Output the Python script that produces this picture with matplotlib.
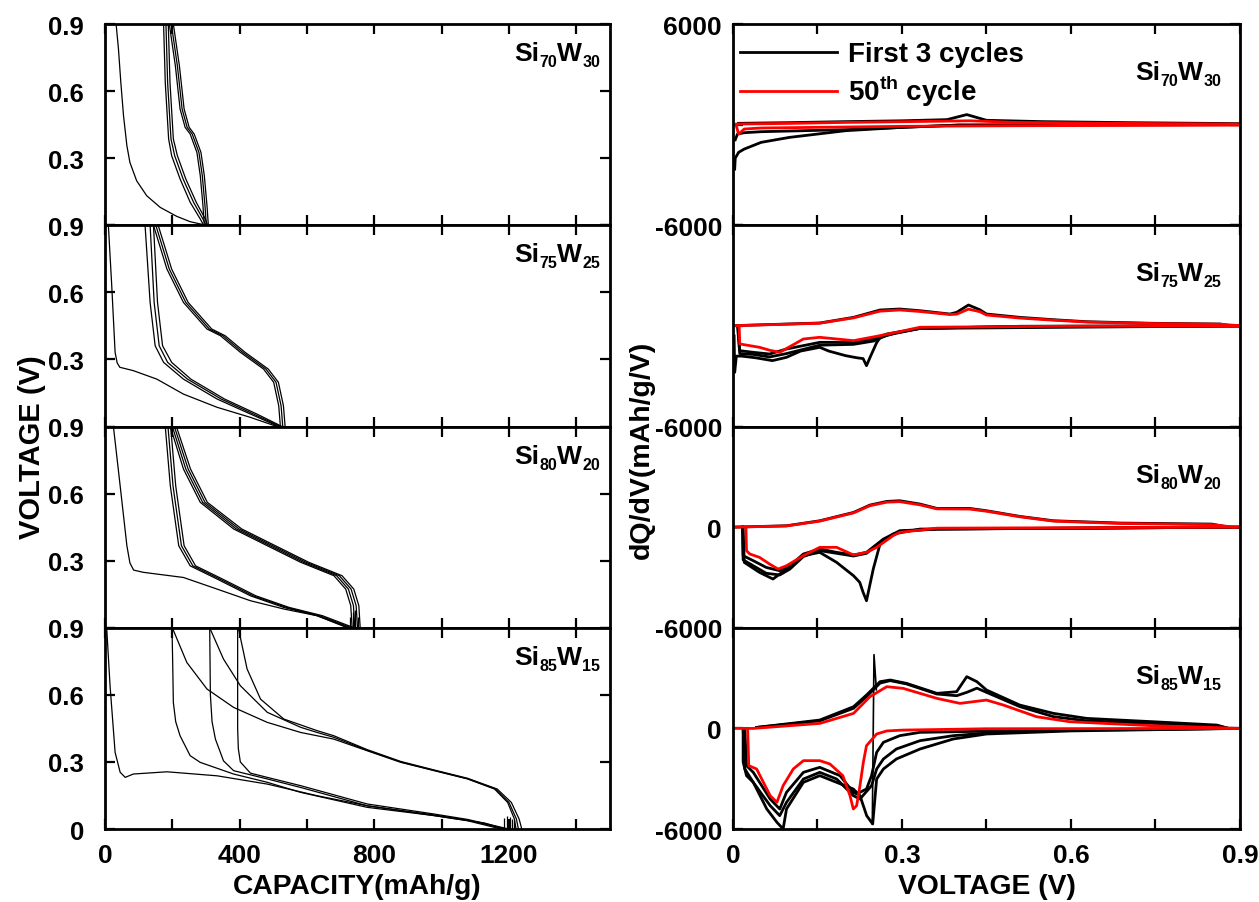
import numpy as np
import matplotlib
matplotlib.use('Agg')
import matplotlib.pyplot as plt
from matplotlib.lines import Line2D
from matplotlib.transforms import IdentityTransform

plt.rcParams['font.family'] = ['Liberation Sans', 'DejaVu Sans']
plt.rcParams['font.weight'] = 'bold'
plt.rcParams['mathtext.fontset'] = 'custom'
plt.rcParams['mathtext.rm'] = 'Liberation Sans'
plt.rcParams['mathtext.bf'] = 'Liberation Sans:bold'

# panel names: (element, subscript) pairs
samples = [[('Si', '70'), ('W', '30')], [('Si', '75'), ('W', '25')],
           [('Si', '80'), ('W', '20')], [('Si', '85'), ('W', '15')]]

# ---------------- voltage profiles (capacity mAh/g, voltage V) ----------------
# Si70W30
l1_first_cap = [33, 40, 47, 55, 65, 74, 94, 124, 164, 213, 253, 283, 303]
l1_first_v = [0.9, 0.788, 0.639, 0.49, 0.356, 0.281, 0.199, 0.132, 0.08, 0.04, 0.016, 0.006, 0.0]
l1_dis_v = [0.9, 0.639, 0.386, 0.311, 0.207, 0.103, 0.028, 0.0]
l1_dis_caps = [[174, 179, 189, 198, 223, 253, 283, 293],
               [181, 186, 196, 207, 232, 263, 291, 300],
               [188, 193, 203, 215, 240, 271, 298, 305]]
l1_chg_v = [0.9, 0.713, 0.52, 0.438, 0.408, 0.326, 0.222, 0.087, 0.0]
l1_chg_caps = [[191, 209, 223, 238, 253, 273, 283, 291, 295],
               [197, 215, 229, 244, 259, 279, 289, 297, 301],
               [203, 221, 235, 250, 265, 285, 295, 303, 307]]

# Si75W25
l2_first_cap = [10, 20, 30, 36, 44, 84, 154, 233, 333, 432, 511]
l2_first_v = [0.9, 0.63, 0.332, 0.285, 0.265, 0.25, 0.212, 0.145, 0.086, 0.041, 0.0]
l2_dis_v = [0.9, 0.555, 0.361, 0.287, 0.212, 0.123, 0.056, 0.0]
l2_dis_caps = [[119, 134, 149, 174, 233, 333, 432, 516],
               [134, 146, 161, 186, 245, 345, 441, 521],
               [144, 156, 171, 198, 255, 355, 451, 526]]
l2_chg_v = [0.9, 0.704, 0.555, 0.436, 0.406, 0.332, 0.257, 0.198, 0.093, 0.0]
l2_chg_caps = [[144, 184, 233, 303, 343, 402, 471, 501, 516, 521],
               [151, 191, 240, 310, 350, 409, 478, 508, 523, 528],
               [158, 198, 247, 317, 357, 416, 485, 515, 530, 535]]

# Si80W20
l3_first_cap = [25, 45, 65, 74, 85, 114, 233, 333, 432, 531, 630, 720]
l3_first_v = [0.9, 0.635, 0.367, 0.29, 0.258, 0.248, 0.225, 0.173, 0.121, 0.084, 0.054, 0.0]
l3_dis_v = [0.9, 0.635, 0.367, 0.277, 0.218, 0.143, 0.091, 0.054, 0.0]
l3_dis_caps = [[179, 194, 219, 253, 333, 432, 531, 630, 725],
               [187, 202, 227, 261, 341, 440, 539, 638, 732],
               [195, 210, 235, 269, 349, 448, 547, 646, 740]]
l3_chg_v = [0.9, 0.71, 0.561, 0.442, 0.367, 0.293, 0.233, 0.173, 0.099, 0.0]
l3_chg_caps = [[194, 233, 283, 382, 482, 581, 680, 715, 730, 734],
               [200, 240, 290, 390, 490, 589, 688, 723, 738, 742],
               [206, 247, 297, 398, 498, 597, 696, 731, 746, 750],
               [212, 254, 304, 406, 506, 605, 704, 739, 754, 758]]
l3_spike_cap = [728, 737, 744, 752]
l3_spike_v = [0.05, 0.07, 0.08, 0.05]

# Si85W15
l4_first_cap = [5, 15, 30, 45, 60, 84, 184, 333, 482, 630, 779, 978, 1127, 1187]
l4_first_v = [0.9, 0.641, 0.343, 0.254, 0.231, 0.246, 0.256, 0.238, 0.201, 0.149, 0.104, 0.06, 0.027, 0.0]
l4_dis_caps = [[199, 201, 203, 210, 223, 253, 283, 382, 482, 581, 779, 978, 1077, 1177],
               [311, 313, 318, 328, 352, 382, 482, 581, 779, 978, 1077, 1190],
               [394, 394, 396, 402, 432, 482, 581, 779, 978, 1077, 1200]]
l4_dis_vs = [[0.9, 0.75, 0.566, 0.48, 0.417, 0.328, 0.298, 0.246, 0.209, 0.164, 0.097, 0.06, 0.037, 0.0],
             [0.9, 0.6, 0.48, 0.402, 0.305, 0.261, 0.224, 0.186, 0.104, 0.063, 0.04, 0.0],
             [0.9, 0.45, 0.36, 0.3, 0.25, 0.231, 0.194, 0.112, 0.067, 0.043, 0.0]]
l4_chg_caps = [[200, 243, 303, 382, 482, 581, 680, 779, 879, 978, 1077, 1157, 1196, 1216, 1221],
               [311, 352, 402, 482, 581, 630, 680, 779, 879, 978, 1077, 1160, 1200, 1222, 1228],
               [396, 422, 462, 531, 630, 680, 779, 879, 978, 1077, 1165, 1207, 1230, 1238]]
l4_chg_vs = [[0.9, 0.745, 0.626, 0.544, 0.477, 0.432, 0.402, 0.35, 0.298, 0.261, 0.224, 0.179, 0.119, 0.045, 0.0],
             [0.9, 0.76, 0.641, 0.522, 0.455, 0.432, 0.41, 0.352, 0.3, 0.262, 0.225, 0.179, 0.119, 0.045, 0.0],
             [0.9, 0.716, 0.581, 0.492, 0.44, 0.417, 0.355, 0.302, 0.264, 0.227, 0.179, 0.119, 0.045, 0.0]]
l4_spike_cap = [1186, 1194, 1202, 1209, 1216]
l4_spike_v = [0.05, 0.06, 0.055, 0.045, 0.04]

# ---------------- dQ/dV (voltage V, mAh/g/V) ----------------
# Si70W30
r1_blk_chg_v = [0.01, 0.1, 0.2, 0.3, 0.38, 0.415, 0.45, 0.55, 0.7, 0.9]
r1_blk_chg_q = [80, 120, 180, 230, 300, 600, 260, 180, 120, 60]
r1_blk_dis1_v = [0.9, 0.6, 0.4, 0.3, 0.2, 0.1, 0.05, 0.02, 0.01, 0.004, 0.003]
r1_blk_dis1_q = [0, -10, -25, -160, -360, -760, -1055, -1455, -1650, -2000, -2650]
r1_blk_dis2_v = [0.9, 0.4, 0.2, 0.1, 0.05, 0.02, 0.008, 0.004]
r1_blk_dis2_q = [0, -25, -300, -380, -420, -480, -560, -900]
r1_red_v = [0.9, 0.7, 0.5, 0.42, 0.3, 0.2, 0.1, 0.005, 0.01, 0.02, 0.05, 0.15, 0.3, 0.5, 0.9]
r1_red_q = [35, 75, 135, 230, 175, 135, 75, 35, -560, -260, -200, -160, -100, -65, -25]

# Si75W25
r2_blk_chg_v = [0.0, 0.095, 0.154, 0.214, 0.261, 0.296, 0.332, 0.385, 0.397, 0.418, 0.438, 0.45, 0.509, 0.569, 0.628, 0.746, 0.865, 0.882]
r2_blk_chg_q = [12, 113, 173, 511, 948, 1007, 906, 709, 810, 1246, 966, 709, 511, 370, 250, 155, 113, 12]
r2_blk_dis1_v = [0.9, 0.509, 0.332, 0.273, 0.249, 0.214, 0.154, 0.095, 0.065, 0.036, 0.012, 0.009]
r2_blk_dis1_q = [0, -25, -145, -483, -780, -980, -980, -1377, -1675, -1575, -1476, 0]
r2_blk_dis2_v = [0.9, 0.509, 0.332, 0.29, 0.261, 0.255, 0.243, 0.237, 0.231, 0.22, 0.2, 0.17, 0.154, 0.12, 0.095, 0.07, 0.04, 0.015, 0.006, 0.003, 0.002]
r2_blk_dis2_q = [0, -25, -150, -400, -700, -1000, -1900, -2370, -1950, -1900, -1775, -1500, -1276, -1500, -1873, -2070, -1900, -1800, -1800, -2767, -600]
r2_blk_dis3_v = [0.9, 0.332, 0.273, 0.25, 0.214, 0.154, 0.095, 0.065, 0.036, 0.012, 0.008]
r2_blk_dis3_q = [0, -150, -550, -900, -1100, -1150, -1650, -1850, -1700, -1650, 0]
r2_red_chg_v = [0.0, 0.095, 0.154, 0.214, 0.261, 0.296, 0.332, 0.385, 0.397, 0.418, 0.438, 0.45, 0.509, 0.569, 0.628, 0.746, 0.865, 0.9]
r2_red_chg_q = [12, 100, 160, 480, 880, 950, 860, 680, 700, 1000, 850, 650, 470, 340, 230, 140, 100, 12]
r2_red_dis_v = [0.9, 0.6, 0.332, 0.29, 0.255, 0.214, 0.154, 0.125, 0.083, 0.065, 0.047, 0.025, 0.012, 0.011]
r2_red_dis_q = [0, -20, -80, -383, -620, -880, -680, -780, -1575, -1450, -1276, -1150, -1075, 0]

# Si80W20
r3_blk_chg_v = [0.0, 0.095, 0.154, 0.214, 0.243, 0.273, 0.296, 0.332, 0.362, 0.42, 0.45, 0.509, 0.569, 0.687, 0.85, 0.88]
r3_blk_chg_q = [0, 83, 381, 879, 1317, 1536, 1575, 1377, 1118, 1118, 980, 642, 381, 244, 184, 0]
r3_red_chg_v = [0.0, 0.095, 0.154, 0.214, 0.243, 0.273, 0.296, 0.332, 0.362, 0.42, 0.45, 0.509, 0.569, 0.687, 0.85, 0.89]
r3_red_chg_q = [0, 70, 360, 850, 1280, 1490, 1520, 1330, 1090, 1080, 950, 620, 360, 220, 150, 0]
r3_blk_dis1_v = [0.9, 0.332, 0.284, 0.261, 0.249, 0.237, 0.231, 0.225, 0.214, 0.184, 0.154, 0.125, 0.095, 0.071, 0.047, 0.02, 0.018]
r3_blk_dis1_q = [0, -113, -411, -1007, -2497, -4386, -3886, -3290, -2897, -2100, -1502, -1700, -2497, -3093, -2695, -2100, 0]
r3_blk_dis2_v = [0.9, 0.362, 0.296, 0.267, 0.237, 0.214, 0.184, 0.154, 0.125, 0.101, 0.083, 0.059, 0.036, 0.018, 0.017]
r3_blk_dis2_q = [0, -113, -212, -709, -1502, -1660, -1502, -1304, -1600, -2300, -2597, -2400, -2000, -1700, 0]
r3_blk_dis3_v = [0.9, 0.362, 0.296, 0.267, 0.237, 0.214, 0.184, 0.154, 0.125, 0.101, 0.083, 0.059, 0.036, 0.018, 0.017]
r3_blk_dis3_q = [0, -113, -250, -760, -1560, -1720, -1560, -1400, -1750, -2500, -2850, -2750, -2300, -1950, 0]
r3_red_dis_v = [0.9, 0.362, 0.296, 0.284, 0.255, 0.237, 0.214, 0.184, 0.154, 0.125, 0.095, 0.08, 0.065, 0.047, 0.03, 0.024, 0.023]
r3_red_dis_q = [0, -60, -312, -511, -1204, -1502, -1660, -1204, -1204, -1700, -2300, -2497, -2200, -1800, -1603, -1406, 0]

# Si85W15
r4_blk_chg1_v = [0.042, 0.154, 0.214, 0.237, 0.261, 0.279, 0.308, 0.362, 0.397, 0.415, 0.433, 0.45, 0.509, 0.569, 0.628, 0.746, 0.859, 0.88]
r4_blk_chg1_q = [60, 498, 1294, 1990, 2786, 2886, 2687, 2090, 2190, 3085, 2786, 2289, 1393, 896, 597, 398, 199, 0]
r4_blk_chg2_v = [0.042, 0.154, 0.214, 0.237, 0.261, 0.279, 0.308, 0.362, 0.397, 0.415, 0.433, 0.45, 0.509, 0.569, 0.628, 0.746, 0.859, 0.88]
r4_blk_chg2_q = [60, 450, 1200, 1900, 2700, 2850, 2650, 2050, 1950, 2150, 2400, 2150, 1300, 700, 450, 300, 160, 0]
r4_red_chg_v = [0.0, 0.036, 0.154, 0.214, 0.243, 0.273, 0.302, 0.362, 0.403, 0.45, 0.48, 0.539, 0.598, 0.746, 0.865, 0.9]
r4_red_chg_q = [0, 0, 298, 896, 1890, 2488, 2388, 1791, 1493, 1691, 1393, 697, 398, 159, 40, 0]
r4_blk_dis1_v = [0.9, 0.6, 0.332, 0.296, 0.267, 0.255, 0.246, 0.237, 0.2195, 0.2136, 0.19, 0.154, 0.125, 0.095, 0.083, 0.066, 0.036, 0.024, 0.021]
r4_blk_dis1_q = [0, -80, -234, -433, -830, -1427, -2817, -3612, -3910, -3811, -2817, -2321, -2619, -3811, -4804, -4208, -2619, -2221, 0]
r4_blk_dis2_v = [0.9, 0.5, 0.391, 0.332, 0.29, 0.267, 0.255, 0.246, 0.2254, 0.2136, 0.184, 0.154, 0.125, 0.095, 0.083, 0.066, 0.036, 0.021, 0.018]
r4_blk_dis2_q = [0, -150, -433, -731, -1228, -1824, -2420, -3413, -4208, -4010, -3016, -2619, -3016, -4407, -5202, -4606, -3215, -2420, 0]
r4_blk_dis3_v = [0.9, 0.6, 0.45, 0.391, 0.332, 0.29, 0.267, 0.255, 0.248, 0.2373, 0.2254, 0.2136, 0.154, 0.125, 0.095, 0.089, 0.078, 0.06, 0.036, 0.024, 0.018, 0.018]
r4_blk_dis3_q = [0, -150, -333, -631, -1228, -1824, -2420, -3016, -5698, -5202, -4010, -3612, -2817, -3215, -4804, -5996, -5599, -4804, -3215, -2817, -2000, 0]
r4_spike_v = [0.2473, 0.2503, 0.2545]
r4_spike_q = [-5700, 4400, 2300]
r4_red_dis_v = [0.9, 0.45, 0.302, 0.273, 0.255, 0.237, 0.2314, 0.2254, 0.2195, 0.2136, 0.2077, 0.195, 0.172, 0.154, 0.125, 0.107, 0.089, 0.078, 0.066, 0.042, 0.028, 0.026]
r4_red_dis_q = [0, -20, -100, -150, -333, -1030, -2020, -3413, -4606, -4804, -4010, -2817, -2120, -1923, -1923, -2420, -3413, -4407, -4010, -2420, -2221, 0]

# ---------------- figure ----------------
fig = plt.figure(figsize=(12.59, 9.03), dpi=100)
h = 0.22287
bottoms = [0.0808 + (3 - i) * h for i in range(4)]
left_axes = [fig.add_axes([0.0834, b, 0.4011, h]) for b in bottoms]
right_axes = [fig.add_axes([0.5822, b, 0.4027, h]) for b in bottoms]

lw_thin = 0.9
lw_thick = 2.0
renderer = fig.canvas.get_renderer()


def style(ax):
    for s in ax.spines.values():
        s.set_linewidth(2)
    ax.tick_params(direction='in', top=True, right=True, length=7, width=1.6, labelsize=19)


def sample_label(ax, parts, dx_right, dy_base):
    # write Si_xxW_yy from right to left, in pixels from the axes' top right corner
    bb = ax.get_window_extent()
    x = bb.x1 - dx_right
    y = bb.y1 - dy_base
    pieces = []
    for el, sub in parts:
        pieces += [(el, 19, 0), (sub, 11.5, -6)]
    for txt, size, dy in reversed(pieces):
        t = fig.text(x, y + dy, txt, transform=IdentityTransform(), ha='right', va='baseline',
                     fontsize=size, fontweight='bold')
        x -= t.get_window_extent(renderer).width


# left column
left_data = [
    (l1_first_cap, l1_first_v, [(c, l1_dis_v) for c in l1_dis_caps] + [(c, l1_chg_v) for c in l1_chg_caps], None),
    (l2_first_cap, l2_first_v, [(c, l2_dis_v) for c in l2_dis_caps] + [(c, l2_chg_v) for c in l2_chg_caps], None),
    (l3_first_cap, l3_first_v, [(c, l3_dis_v) for c in l3_dis_caps] + [(c, l3_chg_v) for c in l3_chg_caps], (l3_spike_cap, l3_spike_v)),
    (l4_first_cap, l4_first_v, list(zip(l4_dis_caps, l4_dis_vs)) + list(zip(l4_chg_caps, l4_chg_vs)), (l4_spike_cap, l4_spike_v)),
]
for i, ax in enumerate(left_axes):
    first_cap, first_v, curves, spikes = left_data[i]
    ax.plot(first_cap, first_v, color='black', lw=lw_thin)
    for c, v in curves:
        ax.plot(c, v, color='black', lw=lw_thin)
    if spikes is not None:
        ax.vlines(spikes[0], 0, spikes[1], color='black', lw=lw_thin)
    ax.set_xlim(0, 1500)
    ax.set_ylim(0, 0.9)
    style(ax)
    ax.tick_params(axis='y', pad=15, labelsize=18.5)
    ax.tick_params(axis='x', pad=10)
    xt = np.arange(0, 1501, 200)
    ax.set_xticks(xt)
    if i == 3:
        ax.set_xticklabels([str(t) if t % 400 == 0 else '' for t in xt])
        ax.set_yticks([0, 0.3, 0.6, 0.9])
        ax.set_yticklabels(['0', '0.3', '0.6', '0.9'])
    else:
        ax.set_xticklabels([])
        ax.set_yticks([0, 0.3, 0.6, 0.9])
        ax.set_yticklabels(['', '0.3', '0.6', '0.9'])
    sample_label(ax, samples[i], 10, 36)

# right column
right_black = [
    [(r1_blk_chg_v, r1_blk_chg_q), (r1_blk_dis1_v, r1_blk_dis1_q), (r1_blk_dis2_v, r1_blk_dis2_q)],
    [(r2_blk_chg_v, r2_blk_chg_q), (r2_blk_dis1_v, r2_blk_dis1_q), (r2_blk_dis2_v, r2_blk_dis2_q), (r2_blk_dis3_v, r2_blk_dis3_q)],
    [(r3_blk_chg_v, r3_blk_chg_q), (r3_blk_dis1_v, r3_blk_dis1_q), (r3_blk_dis2_v, r3_blk_dis2_q), (r3_blk_dis3_v, r3_blk_dis3_q)],
    [(r4_blk_chg1_v, r4_blk_chg1_q), (r4_blk_chg2_v, r4_blk_chg2_q), (r4_blk_dis1_v, r4_blk_dis1_q),
     (r4_blk_dis2_v, r4_blk_dis2_q), (r4_blk_dis3_v, r4_blk_dis3_q)],
]
right_red = [
    [(r1_red_v, r1_red_q)],
    [(r2_red_chg_v, r2_red_chg_q), (r2_red_dis_v, r2_red_dis_q)],
    [(r3_red_chg_v, r3_red_chg_q), (r3_red_dis_v, r3_red_dis_q)],
    [(r4_red_chg_v, r4_red_chg_q), (r4_red_dis_v, r4_red_dis_q)],
]
for i, ax in enumerate(right_axes):
    for v, q in right_black[i]:
        ax.plot(v, q, color='black', lw=lw_thick)
    if i == 3:
        ax.plot(r4_spike_v, r4_spike_q, color='black', lw=1.2)
    for v, q in right_red[i]:
        ax.plot(v, q, color='#ff0000', lw=lw_thick)
    ax.set_xlim(0, 0.9)
    ax.set_ylim(-6000, 6000)
    style(ax)
    ax.tick_params(axis='y', pad=8)
    ax.tick_params(axis='x', pad=10)
    xt = np.arange(0, 0.91, 0.15)
    ax.set_xticks(xt)
    if i == 3:
        ax.set_xticklabels(['0', '', '0.3', '', '0.6', '', '0.9'])
    else:
        ax.set_xticklabels([])
    ax.set_yticks([-6000, 0, 6000])
    if i == 0:
        ax.set_yticklabels(['-6000', '', '6000'])
    elif i == 1:
        ax.set_yticklabels(['-6000', '', ''])
    else:
        ax.set_yticklabels(['-6000', '0', ''])
    sample_label(ax, samples[i], 19, 55)

handles = [Line2D([], [], color='black', lw=lw_thick), Line2D([], [], color='#ff0000', lw=lw_thick)]
right_axes[0].legend(handles, ['First 3 cycles', r'50$^{\mathrm{th}}$ cycle'], loc='upper left',
                     bbox_to_anchor=(0.0, 1 - 10.5 / 201), frameon=False,
                     prop={'weight': 'bold', 'size': 20}, handlelength=3.5,
                     handletextpad=0.4, labelspacing=0.2, borderaxespad=0.1, borderpad=0.15)

fig.text(357.5 / 1259, 1 - 887 / 903, 'CAPACITY(mAh/g)', ha='center', va='center', fontsize=20.3, fontweight='bold')
fig.text(986.5 / 1259, 1 - 887 / 903, 'VOLTAGE (V)', ha='center', va='center', fontsize=20.3, fontweight='bold')
fig.text(32 / 1259, 1 - 447 / 903, 'VOLTAGE (V)', ha='center', va='center', rotation=90, fontsize=21, fontweight='bold')
fig.text(642 / 1259, 1 - 450 / 903, 'dQ/dV(mAh/g/V)', ha='center', va='center', rotation=90, fontsize=20.5, fontweight='bold')

fig.savefig('out.png', dpi=100)
